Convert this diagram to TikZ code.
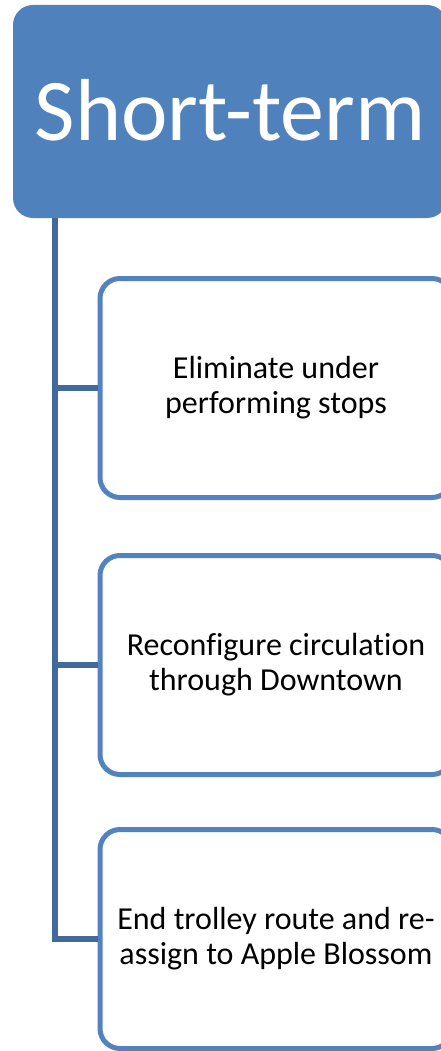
\documentclass[tikz,border=0pt]{standalone}
\usepackage{fontspec}
\setmainfont{Carlito}[Ligatures=NoCommon]
\usetikzlibrary{positioning}
\definecolor{hdrblue}{HTML}{4F81BD}
\definecolor{boxblue}{HTML}{5283BF}
\definecolor{linkblue}{HTML}{41699B}
\tikzset{
  header/.style={rectangle, rounded corners=20pt, fill=hdrblue, text=white,
    minimum width=434pt, minimum height=213pt, inner sep=0pt,
    font=\fontsize{88}{100}\selectfont},
  itembox/.style={rectangle, rounded corners=20pt, draw=boxblue, line width=5pt,
    fill=white, minimum width=352pt, minimum height=219pt, inner sep=0pt,
    align=center, font=\fontsize{32}{35}\selectfont},
  link/.style={draw=linkblue, line width=6pt}
}
\begin{document}
\begin{tikzpicture}[x=1pt,y=-1pt]
  \useasboundingbox (0,0) rectangle (441,1051);
  \node[header] (head) at (230,111.5) {\raisebox{4pt}{Short-term}};
  \node[itembox] (stops) at (276,388) {Eliminate under\\performing stops};
  \node[itembox] (circ) at (276,665) {Reconfigure circulation\\through Downtown};
  \node[itembox] (trolley) at (276,939) {End trolley route and re-\\assign to Apple Blossom};
  \coordinate (trunk) at (55,218);
  \draw[link] (trunk) |- (stops.west);
  \draw[link] (trunk) |- (circ.west);
  \draw[link] (trunk) |- (trolley.west);
\end{tikzpicture}
\end{document}
